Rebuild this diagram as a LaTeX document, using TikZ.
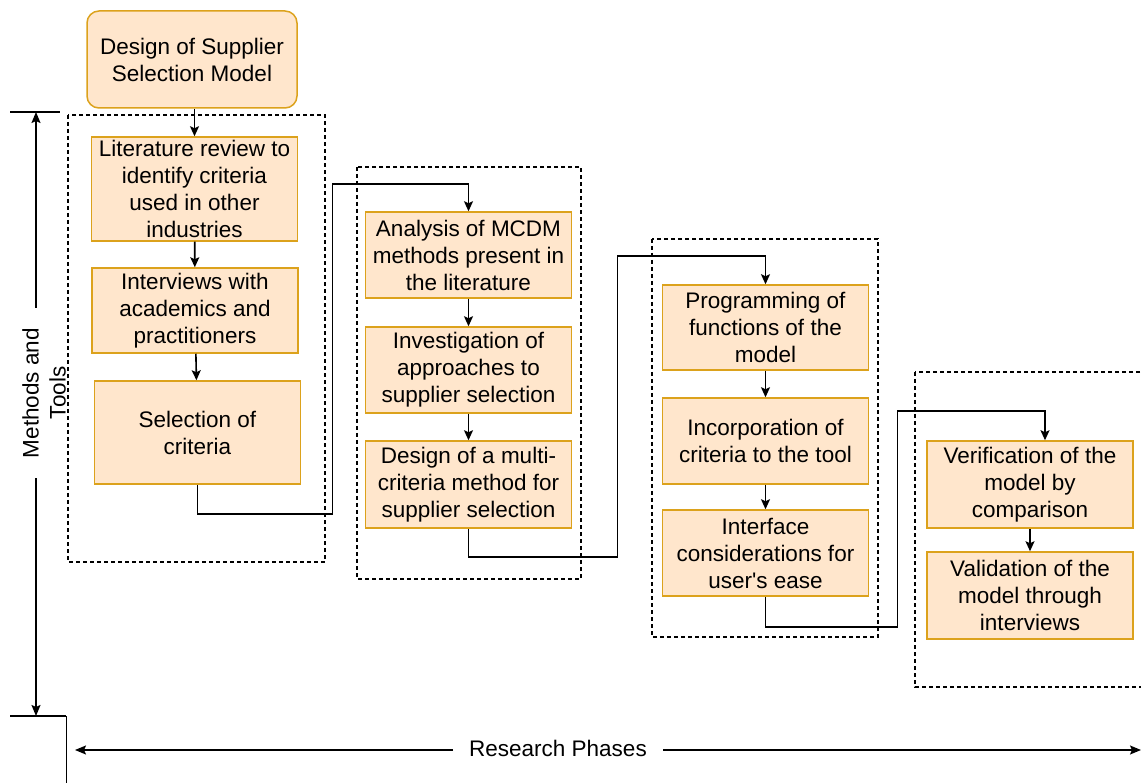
\documentclass[tikz,border=0pt]{standalone}
\usepackage{fontspec}
\setmainfont{Liberation Sans}
\usetikzlibrary{arrows.meta}
\definecolor{boxfill}{HTML}{ffe6cc}
\definecolor{boxline}{HTML}{dca21c}

\begin{document}
\begin{tikzpicture}[x=1pt, y=-1pt, font=\fontsize{22.5}{27}\selectfont,
    stage/.style={rectangle, draw=boxline, line width=1.5pt, fill=boxfill,
                  align=center, inner sep=2pt, minimum width=206pt},
    flow/.style={-{Stealth[length=10pt, width=9pt, inset=2pt]}, line width=1.6pt},
    phase/.style={draw, line width=1.3pt, dash pattern=on 4pt off 3pt},
    axis/.style={-{Stealth[length=11pt, width=9pt, inset=2pt]}, line width=1.5pt}]
  \useasboundingbox (0,0) rectangle (1141,783);

  % phase frames
  \draw[phase] (68,115) rectangle (325,562);
  \draw[phase] (357,167) rectangle (581,579);
  \draw[phase] (652,239) rectangle (878,637);
  \draw[phase] (915,372) rectangle (1150,687);

  \node[stage, rounded corners=12pt, minimum width=210pt, minimum height=97pt] (goal) at (192,59.5)
        {Design of Supplier\\Selection Model};

  % phase 1
  \node[stage, minimum height=104pt] (lit) at (194.5,189)
        {Literature review to\\identify criteria\\used in other\\industries};
  \node[stage, minimum height=85pt] (intv) at (195,310.5)
        {Interviews with\\academics and\\practitioners};
  \node[stage, minimum height=103pt] (sel) at (197.5,432.5)
        {Selection of\\criteria};

  % phase 2
  \node[stage, minimum height=86pt] (mcdm) at (468.5,255)
        {Analysis of MCDM\\methods present in\\the literature};
  \node[stage, minimum height=86pt] (appr) at (468.5,370)
        {Investigation of\\approaches to\\supplier selection};
  \node[stage, minimum height=87pt] (meth) at (468.5,484.5)
        {Design of a multi-\\criteria method for\\supplier selection};

  % phase 3
  \node[stage, minimum height=85pt] (prog) at (765.5,327.5)
        {Programming of\\functions of the\\model};
  \node[stage, minimum height=86pt] (incp) at (765.5,441)
        {Incorporation of\\criteria to the tool};
  \node[stage, minimum height=86pt] (intf) at (765.5,553)
        {Interface\\considerations for\\user\textquotesingle s ease};

  % phase 4
  \node[stage, minimum height=87pt] (verif) at (1030,484.5)
        {Verification of the\\model by\\comparison};
  \node[stage, minimum height=87pt] (valid) at (1030,595.5)
        {Validation of the\\model through\\interviews};

  % connectors
  \draw[flow] (lit.north |- goal.south) -- (lit.north);
  \draw[flow] (lit) -- (intv);
  \draw[flow] (intv) -- (sel);
  \draw[flow] (sel.south) -- ++(0,29) -- ++(135,0) |- ([yshift=27pt]mcdm.north) -- (mcdm.north);
  \draw[flow] (mcdm) -- (appr);
  \draw[flow] (appr) -- (meth);
  \draw[flow] (meth.south) -- ++(0,28) -- ++(149,0) |- ([yshift=28pt]prog.north) -- (prog.north);
  \draw[flow] (prog) -- (incp);
  \draw[flow] (incp) -- (intf);
  \draw[flow] (intf.south) -- ++(0,30) -- ++(132,0) |- ([xshift=15pt, yshift=29pt]verif.north) -- ([xshift=15pt]verif.north);
  \draw[flow] (verif) -- (valid);

  % axes
  \coordinate (ytop) at (36,112);
  \coordinate (ybot) at (36,716);
  \coordinate (xleft) at (75,750);
  \coordinate (xright) at (1141,750);
  \draw[line width=1.5pt] (10,112) -- (60,112);
  \draw[line width=1.5pt] (10,716) -- (66,716);
  \draw[line width=1pt] (66,716) -- (66,783);
  \node[rotate=90, align=center, inner xsep=20pt, inner ysep=0pt] (mt) at (44,393)
        {Methods and\\Tools};
  \draw[axis] (ytop |- mt.east) -- (ytop);
  \draw[axis] (ybot |- mt.west) -- (ybot);
  \node[inner xsep=16pt] (rp) at (558,748) {Research Phases};
  \draw[axis] (xleft -| rp.west) -- (xleft);
  \draw[axis] (xright -| rp.east) -- (xright);
\end{tikzpicture}
\end{document}
